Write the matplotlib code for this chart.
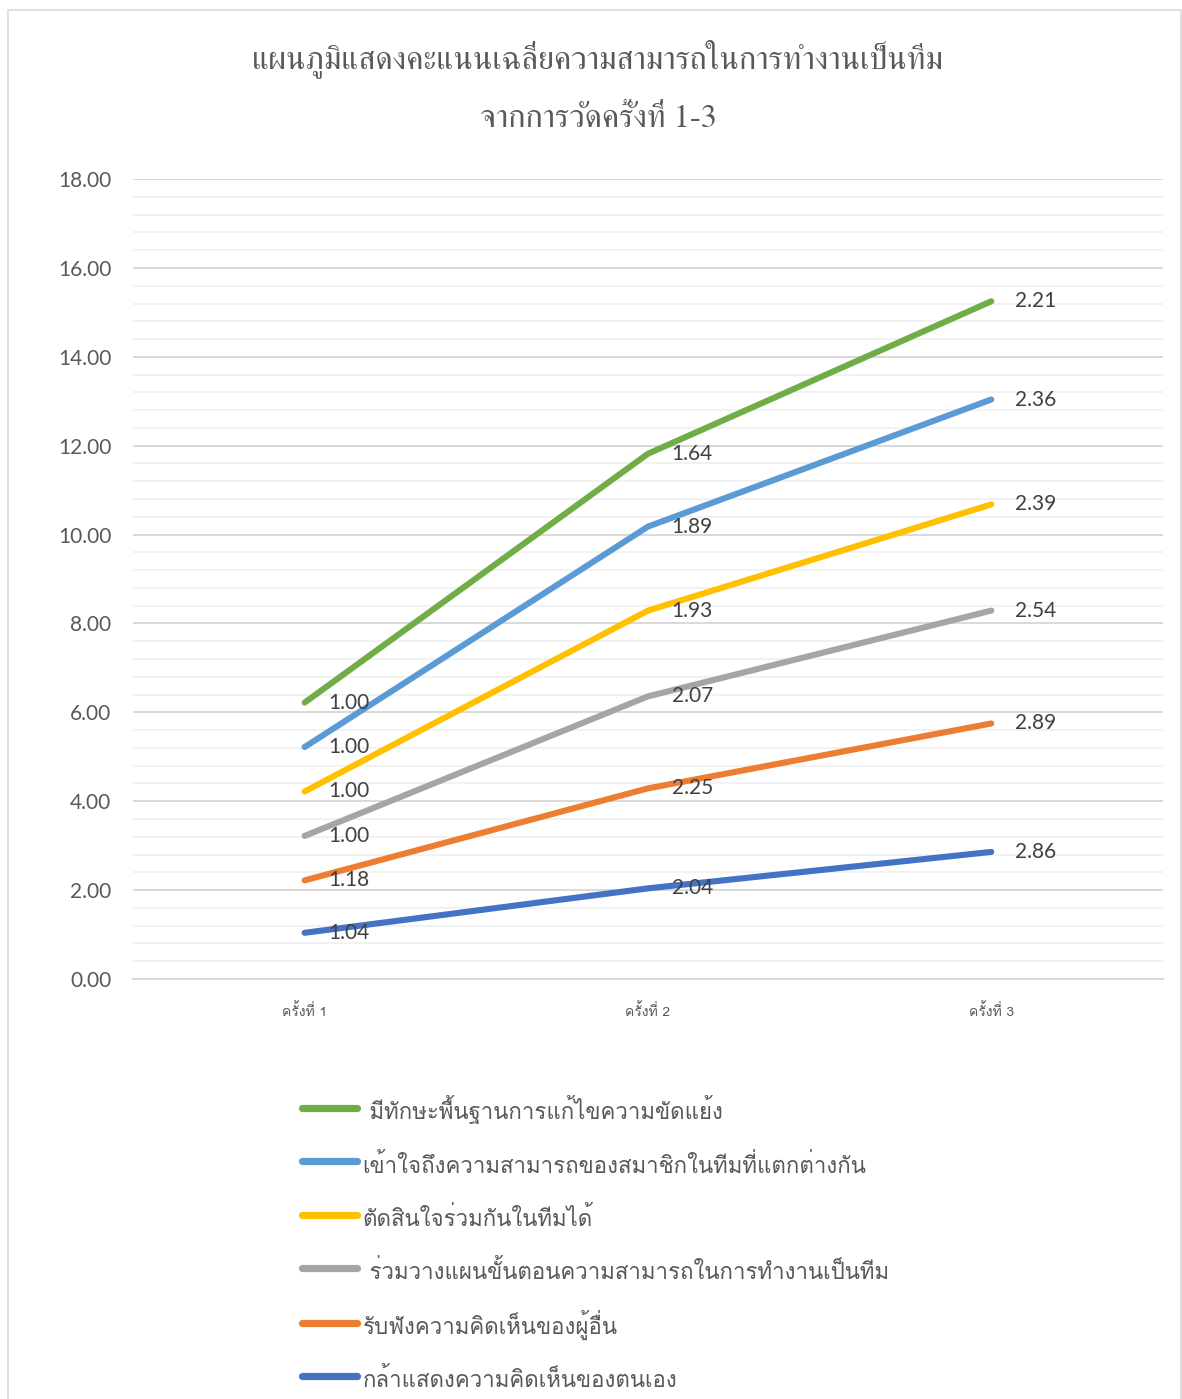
import matplotlib
matplotlib.use('Agg')
import matplotlib.pyplot as plt
from matplotlib import font_manager
from matplotlib.ft2font import FT2Font
from matplotlib.patches import Rectangle
import numpy as np

# data (per-round averages, drawn as stacked lines)
rounds = ['ครั้งที่ 1', 'ครั้งที่ 2', 'ครั้งที่ 3']
s_speak = [1.04, 2.04, 2.86]
s_listen = [1.18, 2.25, 2.89]
s_plan = [1.00, 2.07, 2.54]
s_decide = [1.00, 1.93, 2.39]
s_understand = [1.00, 1.89, 2.36]
s_conflict = [1.00, 1.64, 2.21]

names = ['กล้าแสดงความคิดเห็นของตนเอง',
         'รับฟังความคิดเห็นของผู้อื่น',
         ' ร่วมวางแผนขั้นตอนความสามารถในการทำงานเป็นทีม',
         'ตัดสินใจร่วมกันในทีมได้',
         'เข้าใจถึงความสามารถของสมาชิกในทีมที่แตกต่างกัน',
         ' มีทักษะพื้นฐานการแก้ไขความขัดแย้ง']
colors = ['#4472C4', '#ED7D31', '#A5A5A5', '#FFC000', '#5B9BD5', '#70AD47']
title = 'แผนภูมิแสดงคะแนนเฉลี่ยความสามารถในการทำงานเป็นทีม\nจากการวัดครั้งที่ 1-3'


def thai_fonts():
	# look for installed fonts that have thai glyphs
	found = []
	for fe in font_manager.fontManager.ttflist:
		try:
			f = FT2Font(fe.fname)
			if f.get_char_index(0x0E01) and f.get_char_index(0x0E21):
				found.append(fe.name)
		except Exception:
			pass
	return list(dict.fromkeys(found))


th = thai_fonts()
serif_th = [n for n in th if 'Serif' in n or n in ('Norasi', 'Kinnari', 'Garuda')] + th
sans_th = [n for n in th if 'Serif' not in n] + th

fig = plt.figure(figsize=(11.82, 13.99), dpi=100)
ax = fig.add_axes([0.1125, 0.3002, 0.8714, 0.5718])

data = np.array([s_speak, s_listen, s_plan, s_decide, s_understand, s_conflict])
stacked = np.cumsum(data, axis=0)
x = np.arange(len(rounds))

lines = []
for i in range(len(names)):
	ln, = ax.plot(x, stacked[i], color=colors[i], lw=4.4, solid_capstyle='round',
		solid_joinstyle='round', label=names[i], zorder=3)
	lines.append(ln)
	for j in range(len(rounds)):
		ax.annotate('%.2f' % data[i][j], (x[j], stacked[i][j]), xytext=(17, 0),
			textcoords='offset points', va='center', ha='left',
			fontsize=15, color='#404040', family=['Lato', 'DejaVu Sans'], zorder=4)

ax.set_xlim(-0.5, 2.5)
ax.set_ylim(0, 18)
ax.set_yticks(np.arange(0, 18.01, 2))
ax.set_yticks(np.arange(0, 18.01, 0.4), minor=True)
ax.set_yticklabels(['%.2f' % v for v in np.arange(0, 18.01, 2)])
ax.set_xticks(x)
ax.set_xticklabels(rounds, family=sans_th + ['DejaVu Sans'], fontsize=10, color='#595959')
for lab in ax.get_yticklabels():
	lab.set_family(['Lato', 'DejaVu Sans'])
	lab.set_fontsize(15)
	lab.set_color('#595959')
ax.tick_params(axis='both', length=0)
ax.tick_params(axis='y', which='minor', length=0)
ax.tick_params(axis='y', pad=15.5)
ax.tick_params(axis='x', pad=17)
ax.grid(True, which='major', axis='y', color='#d9d9d9', lw=1.4, zorder=1)
ax.grid(True, which='minor', axis='y', color='#f2f2f2', lw=1.4, zorder=0)
for s in ['top', 'right', 'left']:
	ax.spines[s].set_visible(False)
ax.spines['bottom'].set_color('#d9d9d9')
ax.spines['bottom'].set_linewidth(1.4)

fig.text(0.506, 0.972, title, ha='center', va='top', fontsize=23.3, color='#595959',
	family=serif_th + ['DejaVu Serif'], linespacing=2.2)

leg = fig.legend(lines[::-1], names[::-1], loc='upper left', bbox_to_anchor=(0.2385, 0.2315),
	frameon=False, handlelength=2.5, handleheight=1.8, handletextpad=0.22, labelspacing=0.99,
	prop={'family': sans_th + ['DejaVu Sans'], 'size': 16})
for t in leg.get_texts():
	t.set_color('#595959')
for h in leg.legend_handles:
	h.set_linewidth(5.2)

# chart border
fig.patches.append(Rectangle((8 / 1182, -0.01), 1173 / 1182, 1.01 - 10 / 1399,
	transform=fig.transFigure, fill=False, ec='#d9d9d9', lw=1.2))

fig.savefig('out.png', dpi=100)
